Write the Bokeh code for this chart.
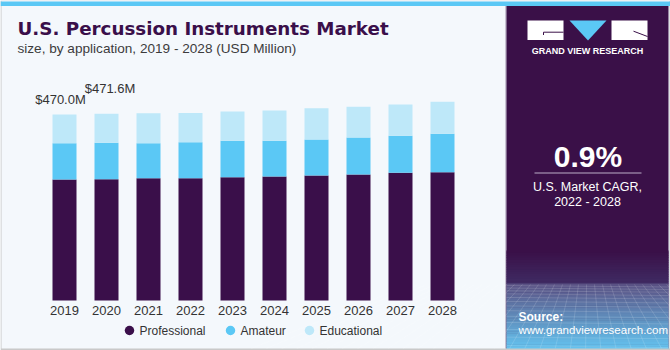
from bokeh.plotting import figure
from bokeh.models import Range1d, ColumnDataSource
from bokeh.core.properties import value
from bokeh.embed import file_html
from bokeh.resources import INLINE

# ---------------- data ----------------
years = [2019, 2020, 2021, 2022, 2023, 2024, 2025, 2026, 2027, 2028]
professional = [305.8, 306.5, 309.1, 309.1, 311.6, 313.3, 315.9, 318.4, 322.7, 324.2]
amateur = [91.7, 92.0, 88.4, 91.0, 92.0, 90.2, 91.0, 93.5, 93.5, 97.0]
educational = [72.5, 73.1, 75.8, 73.8, 74.0, 76.6, 79.1, 77.6, 79.1, 80.9]
series_names = ["Professional", "Amateur", "Educational"]
series_colors = ["#3a0f4a", "#5bc8f5", "#bee8f9"]
labelled_years = [2019, 2020]

title = "U.S. Percussion Instruments Market"
subtitle = "size, by application, 2019 - 2028 (USD Million)"
cagr_value = "0.9%"
cagr_text = ["U.S. Market CAGR,", "2022 - 2028"]

# ---------------- figure (frame covers whole canvas) ----------------
W, H = 670, 350
k = 470.0 / 186.0                      # value units per pixel
x0 = 2019 - 64 / 42.0
p = figure(width=W, height=H, min_border=0, toolbar_location=None,
           output_backend="svg", x_axis_location=None, y_axis_location=None,
           x_range=Range1d(x0, x0 + W / 42.0),
           y_range=Range1d(-50 * k, 300 * k),
           outline_line_color=None)
p.grid.visible = False
p.background_fill_color = "#f4f8fc"
p.border_fill_color = "#f4f8fc"
p.extra_x_ranges = {"px": Range1d(0, W)}
p.extra_y_ranges = {"py": Range1d(H, 0)}
PX = dict(x_range_name="px", y_range_name="py")
FONT = value("Liberation Sans")


def box(l, r, t, b, color, alpha=1.0):
    p.quad(left=[l], right=[r], top=[t], bottom=[b], fill_color=color,
           fill_alpha=alpha, line_color=None, **PX)


def ptext(x, y, t, size, color="#333333", style="normal", align="left", font=FONT):
    p.text(x=[x], y=[y], text=[t], text_font=font, text_font_size=size,
           text_font_style=style, text_color=color, text_align=align,
           text_baseline="middle", **PX)


# frame / borders
box(0, W, 0, H, "#c9c9c9")
box(1, W - 1, 0, H - 2, "#f4f8fc")
box(0, W, 1, 5.5, "#5bc8f5")
box(505, 506, 5.5, H - 2, "#9a8aa8")
box(506, W - 2, 5.5, H - 2, "#3a1048")


def hexmix(c1, c2, t):
    a = [int(c1[i:i + 2], 16) for i in (1, 3, 5)]
    b = [int(c2[i:i + 2], 16) for i in (1, 3, 5)]
    return "#%02x%02x%02x" % tuple(int(round(a[j] + (b[j] - a[j]) * t)) for j in range(3))


# gradient at bottom of right panel
n1 = 14
for i in range(n1):
    y1 = 250 + i * (33 / n1)
    box(506, W - 2, y1, y1 + 33 / n1 + 0.5, hexmix("#3a1048", "#3f2a62", i / (n1 - 1)))
n2 = 30
for i in range(n2):
    y1 = 283 + i * (65 / n2)
    box(506, W - 2, y1, y1 + 65 / n2 + 0.5, hexmix("#5a5284", "#64c2ee", i / (n2 - 1)))
# faint wireframe
hx, hy = [], []
yy = 285.0
step = 2.5
while yy < 348:
    hx.append([506, W - 2]); hy.append([yy, yy + 1.5])
    yy += step
    step *= 1.12
for j in range(-12, 24):
    xt = 506 + j * 8
    hx.append([xt, xt + (xt - 587) * 0.9]); hy.append([284, 348])
p.multi_line(xs=hx, ys=hy, line_color="#ffffff", line_alpha=0.14, line_width=1, **PX)
box(506, W - 2, 348, H, "#c9c9c9")

# ---------------- titles ----------------
ptext(17, 28.4, title, "18.3px", color="#3a0f4a", style="bold", font=value("DejaVu Sans"))
ptext(17, 48.3, subtitle, "13.6px", color="#3c3c3c")

# ---------------- stacked bars ----------------
src = ColumnDataSource(dict(year=years, Professional=professional,
                            Amateur=amateur, Educational=educational))
p.vbar_stack(series_names, x="year", width=24 / 42.0, color=series_colors,
             line_color=None, source=src)

# value labels
totals = [a + b + c for a, b, c in zip(professional, amateur, educational)]
lab_tot = [totals[years.index(y)] for y in labelled_years]
p.text(x=labelled_years, y=lab_tot, text=["$%.1fM" % t for t in lab_tot],
       x_offset=[-4, 3.5], y_offset=[-15.3, -25.6], text_font=FONT,
       text_font_size="13px", text_color="#333333", text_align="center",
       text_baseline="middle")

# year tick labels
p.text(x=years, y=[0] * len(years), text=[str(y) for y in years], y_offset=10.3,
       text_font=FONT, text_font_size="13px", text_color="#333333",
       text_align="center", text_baseline="middle")

# legend
leg_x = [129, 230, 309]
p.scatter(x=leg_x, y=[330] * 3, size=9.5, marker="circle", fill_color=series_colors,
          line_color=None, **PX)
p.text(x=[x + 10 for x in leg_x], y=[330] * 3, text=series_names, text_font=FONT,
       text_font_size="12px", text_color="#333333", text_align="left",
       text_baseline="middle", **PX)

# ---------------- right panel ----------------
box(527, 563, 20, 39.5, "#ffffff")
box(611, 647, 20, 39.5, "#ffffff")
p.patch(x=[569, 606, 587.5], y=[20, 20, 40], fill_color="#5bc8f5", line_color=None, **PX)
p.multi_line(xs=[[543, 563], [543, 543], [633, 647]], ys=[[31.7, 31.7], [31.7, 34.5], [30.7, 36]],
             line_color="#3a1048", line_width=1, **PX)
ptext(587, 50.6, "GRAND VIEW RESEARCH", "9px", color="#ffffff", style="bold", align="center")

ptext(587.5, 155.5, cagr_value, "30px", color="#ffffff", style="bold", align="center")
p.line(x=[534, 641], y=[172.5, 172.5], line_color="#bcaec8", line_width=1, **PX)
ptext(587, 186.3, cagr_text[0], "12.5px", color="#ffffff", align="center")
ptext(587, 201, cagr_text[1], "12.5px", color="#ffffff", align="center")

ptext(518, 316.5, "Source:", "12px", color="#ffffff", style="bold")
ptext(518, 329.8, "www.grandviewresearch.com", "11.5px", color="#ffffff")

open("out.html", "w").write(file_html(p, INLINE))
